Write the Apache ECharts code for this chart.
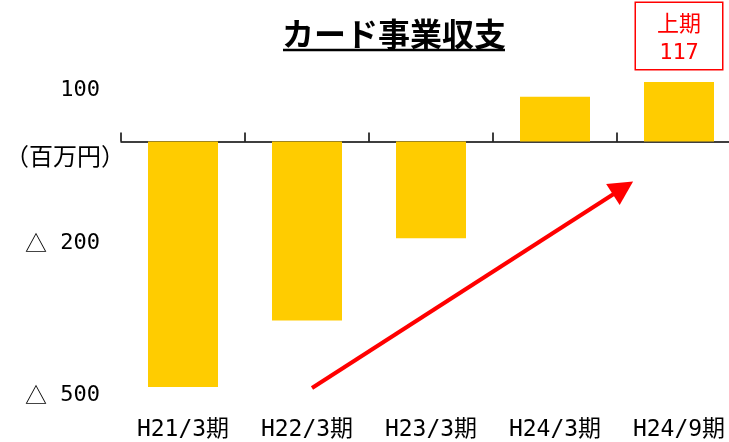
<!DOCTYPE html>
<html>
<head>
<meta charset="utf-8">
<title>カード事業収支</title>
<script src="https://cdn.jsdelivr.net/npm/echarts@6/dist/echarts.min.js"></script>
<style>
  html, body { margin: 0; padding: 0; background: #fff; }
  #main { width: 729px; height: 442px; }
</style>
</head>
<body>
<div id="main"></div>
<script>
"use strict";
// カード事業収支（百万円）
var categories = ['H21/3期', 'H22/3期', 'H23/3期', 'H24/3期', 'H24/9期'];
var balance = [-484, -353, -191, 88, 117];
var yTickValues = [100, -200, -500];
var calloutIndex = 4;          // 上期 117
var calloutTitle = '上期';

var MONO = "'DejaVu Sans Mono','Noto Sans CJK JP',monospace";
var CJK = "'Noto Sans CJK JP',sans-serif";

var chart = echarts.init(document.getElementById('main'));

/**
 * y label: negative numbers written with △
 */
function yLabel(v) {
  if (yTickValues.indexOf(v) === -1) {
    return '';
  }
  return v < 0 ? '{t|△} ' + (-v) : String(v);
}

var barData = balance.map(function (v, i) {
  if (i !== calloutIndex) {
    return v;
  }
  return {
    value: v,
    label: {
      show: true,
      position: 'top',
      distance: 13,
      formatter: function (p) { return calloutTitle + '\n' + p.value; },
      color: '#ff0000',
      fontFamily: MONO,
      fontSize: 22,
      lineHeight: 28,
      align: 'center',
      backgroundColor: '#fff',
      borderColor: '#ff0000',
      borderWidth: 1.5,
      padding: [8, 21, 2, 21]
    }
  };
});

var option = {
  animation: false,
  title: {
    text: 'カード事業収支',
    left: 389,
    top: 13,
    textAlign: 'center',
    textStyle: { fontFamily: CJK, fontSize: 32, fontWeight: 'bold', color: '#000' }
  },
  grid: { left: 121, width: 620, top: 40, bottom: 47, outerBoundsMode: 'none', containLabel: false },
  xAxis: [{
    type: 'category',
    data: categories,
    position: 'top',
    axisLine: { onZero: true, lineStyle: { color: '#000', width: 1.5 } },
    axisTick: { show: true, length: 9, lineStyle: { color: '#000', width: 1.5 } },
    axisLabel: { show: false },
    splitLine: { show: false }
  }, {
    type: 'category',
    data: categories,
    position: 'bottom',
    axisLine: { show: false, onZero: false },
    axisTick: { show: false },
    axisLabel: { interval: 0, margin: 24, color: '#000', fontFamily: MONO, fontSize: 23 },
    splitLine: { show: false }
  }],
  yAxis: {
    type: 'value',
    min: -500,
    max: 200,
    interval: 100,
    axisLine: { show: false },
    axisTick: { show: false },
    splitLine: { show: false },
    axisLabel: {
      margin: 21, color: '#000', fontFamily: MONO, fontSize: 22, formatter: yLabel,
      rich: { t: { fontFamily: CJK, fontSize: 22, color: '#000' } }
    }
  },
  graphic: [{
    type: 'line',
    shape: { x1: 283, y1: 50, x2: 505, y2: 50 },
    style: { stroke: '#000', lineWidth: 2.5 }
  }, {
    type: 'text',
    left: 5,
    top: 144,
    style: { text: '（百万円）', fill: '#000', font: '24px ' + CJK }
  }],
  series: [{
    type: 'bar',
    xAxisIndex: 0,
    data: barData,
    barWidth: 70,
    itemStyle: { color: '#ffcc00' },
    markLine: {
      silent: true,
      symbol: ['none', 'triangle'],
      symbolSize: [25, 24],
      label: { show: false },
      lineStyle: { color: '#ff0000', width: 4, type: 'solid' },
      data: [[{ x: 312, y: 388 }, { x: 623, y: 188 }]]
    }
  }]
};

chart.setOption(option);
</script>
</body>
</html>
